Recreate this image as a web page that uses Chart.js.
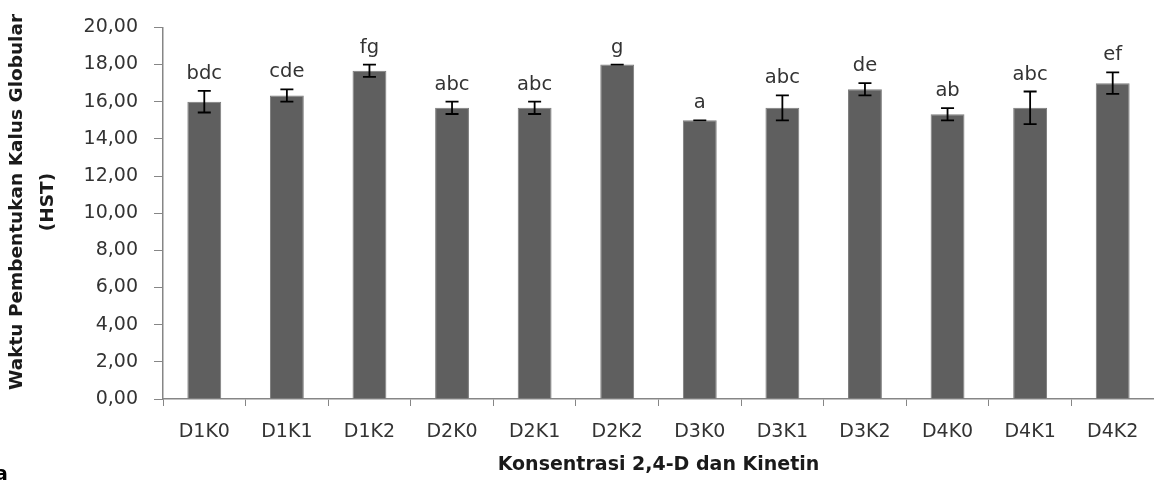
<!DOCTYPE html>
<html>
<head>
<meta charset="utf-8">
<script src="https://cdn.jsdelivr.net/npm/chart.js@4"></script>
<style>
  html, body { margin: 0; padding: 0; background: #ffffff; }
  #wrap { width: 1154px; height: 481px; position: relative; }
</style>
</head>
<body>
<div id="wrap"><canvas id="chart" width="1154" height="481"></canvas></div>
<script>
// Treatment combinations of 2,4-D and kinetin
const categories = ['D1K0', 'D1K1', 'D1K2', 'D2K0', 'D2K1', 'D2K2', 'D3K0', 'D3K1', 'D3K2', 'D4K0', 'D4K1', 'D4K2'];
// Mean days to globular callus formation (HST)
const means = [16.00, 16.33, 17.67, 15.67, 15.67, 18.00, 15.00, 15.67, 16.67, 15.33, 15.67, 17.00];
// Standard error of each mean
const errors = [0.58, 0.33, 0.33, 0.33, 0.33, 0.00, 0.00, 0.67, 0.33, 0.33, 0.88, 0.58];
// Significance letters from the post-hoc test
const letters = ['bdc', 'cde', 'fg', 'abc', 'abc', 'g', 'a', 'abc', 'de', 'ab', 'abc', 'ef'];
// Y axis tick values
const yTicks = [0, 2, 4, 6, 8, 10, 12, 14, 16, 18, 20];
// Y axis title lines
const yTitleLines = ['Waktu Pembentukan Kalus Globular', '(HST)'];

const FONT = "'DejaVu Sans', Verdana, sans-serif";
const AXIS_GREY = '#868686';
const TEXT_GREY = '#333333';

// Error bars with caps, significance letters, rotated y title and panel letter
const annotations = {
  id: 'annotations',
  afterDatasetsDraw(chart) {
    const ctx = chart.ctx;
    const yScale = chart.scales.y;
    const meta = chart.getDatasetMeta(0);
    ctx.save();
    meta.data.forEach((bar, i) => {
      const x = bar.x;
      const yHi = yScale.getPixelForValue(means[i] + errors[i]);
      const yLo = yScale.getPixelForValue(means[i] - errors[i]);
      const cap = 6.5;
      ctx.strokeStyle = '#000000';
      ctx.lineWidth = 1.8;
      ctx.beginPath();
      ctx.moveTo(x, yHi); ctx.lineTo(x, yLo);
      ctx.moveTo(x - cap, yHi); ctx.lineTo(x + cap, yHi);
      ctx.moveTo(x - cap, yLo); ctx.lineTo(x + cap, yLo);
      ctx.stroke();

      ctx.fillStyle = TEXT_GREY;
      ctx.font = '19.5px ' + FONT;
      ctx.textAlign = 'center';
      ctx.textBaseline = 'alphabetic';
      ctx.fillText(letters[i], x, yHi - 12);
    });
    ctx.restore();
  },
  afterDraw(chart) {
    const ctx = chart.ctx;
    ctx.save();
    // y axis title, two rotated lines
    ctx.fillStyle = '#1a1a1a';
    ctx.font = 'bold 18.5px ' + FONT;
    ctx.textAlign = 'center';
    ctx.textBaseline = 'middle';
    const cy = 202;
    [17, 48].forEach((cx, k) => {
      ctx.save();
      ctx.translate(cx, cy);
      ctx.rotate(-Math.PI / 2);
      ctx.fillText(yTitleLines[k], 0, 0);
      ctx.restore();
    });
    // panel letter in the lower left corner
    ctx.fillStyle = '#000000';
    ctx.font = 'bold 19px ' + FONT;
    ctx.textAlign = 'left';
    ctx.textBaseline = 'alphabetic';
    ctx.fillText('a', -5, 480);
    ctx.restore();
  }
};

new Chart(document.getElementById('chart'), {
  type: 'bar',
  data: {
    labels: categories,
    datasets: [{
      data: means,
      backgroundColor: '#5f5f5f',
      borderColor: '#7c7c7c',
      borderWidth: 1,
      categoryPercentage: 1.0,
      barPercentage: 0.41
    }]
  },
  options: {
    responsive: false,
    animation: false,
    devicePixelRatio: 1,
    layout: { padding: { top: 17, right: 0, bottom: 0, left: 0 } },
    plugins: {
      legend: { display: false },
      tooltip: { enabled: false }
    },
    scales: {
      x: {
        afterFit(scale) { scale.height = 82; },
        grid: {
          offset: true,
          drawOnChartArea: false,
          drawTicks: true,
          tickLength: 7,
          color: AXIS_GREY
        },
        border: { display: true, color: AXIS_GREY, width: 1.5 },
        ticks: {
          color: TEXT_GREY,
          font: { family: FONT, size: 19 },
          padding: 15,
          maxRotation: 0
        },
        title: {
          display: true,
          text: 'Konsentrasi 2,4-D dan Kinetin',
          color: '#1a1a1a',
          font: { family: FONT, size: 19, weight: 'bold' },
          padding: { top: 0, bottom: 5 }
        }
      },
      y: {
        min: 0,
        max: 20,
        afterFit(scale) { scale.width = 163; },
        afterBuildTicks(scale) { scale.ticks = yTicks.map(v => ({ value: v })); },
        grid: {
          drawOnChartArea: false,
          drawTicks: true,
          tickLength: 9,
          color: AXIS_GREY
        },
        border: { display: true, color: AXIS_GREY, width: 1.5 },
        ticks: {
          color: TEXT_GREY,
          font: { family: FONT, size: 19 },
          padding: 16,
          callback: (v) => Number(v).toFixed(2).replace('.', ',')
        },
        title: { display: false }
      }
    }
  },
  plugins: [annotations]
});
</script>
</body>
</html>
